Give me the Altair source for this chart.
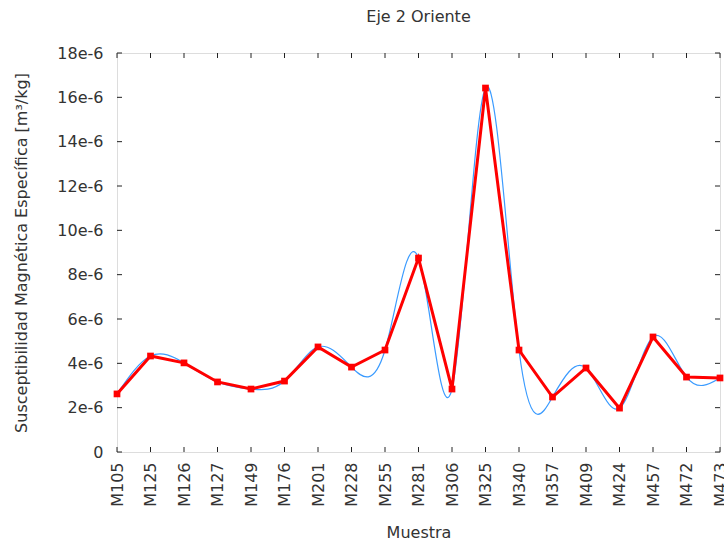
import altair as alt
import pandas as pd

# Samples along the eastern axis and their specific magnetic susceptibility (m³/kg)
muestras = ["M105", "M125", "M126", "M127", "M149", "M176", "M201", "M228", "M255",
            "M281", "M306", "M325", "M340", "M357", "M409", "M424", "M457", "M472", "M473"]
susceptibilidad = [2.62e-6, 4.33e-6, 4.02e-6, 3.16e-6, 2.84e-6, 3.20e-6, 4.74e-6, 3.83e-6, 4.60e-6,
                   8.75e-6, 2.84e-6, 16.42e-6, 4.60e-6, 2.48e-6, 3.79e-6, 1.98e-6, 5.19e-6, 3.38e-6, 3.34e-6]
y_ticks = [0, 2e-6, 4e-6, 6e-6, 8e-6, 10e-6, 12e-6, 14e-6, 16e-6, 18e-6]

W, H = 603, 399
FONT = "DejaVu Sans"
FS = 16
TXT = "#333"

df = pd.DataFrame({"Muestra": muestras, "Valor": susceptibilidad})
ticks_df = pd.DataFrame({"t": y_ticks})

x_enc = alt.X("Muestra:N", sort=muestras,
              scale=alt.Scale(type="point", padding=0),
              axis=alt.Axis(title="Muestra", labelAngle=-90, ticks=False, domain=False,
                            labelPadding=10, titlePadding=18, labelFont=FONT, titleFont=FONT,
                            labelFontSize=FS, titleFontSize=FS, labelColor=TXT,
                            titleColor=TXT, titleFontWeight="normal"))
y_scale = alt.Scale(domain=[0, 18e-6], nice=False, zero=True)
y_enc = alt.Y("Valor:Q", scale=y_scale,
              axis=alt.Axis(title="Susceptibilidad Magnética Específica [m³/kg]",
                            values=y_ticks, ticks=False, domain=False, grid=False,
                            labelExpr="datum.value == 0 ? '0' : round(datum.value * 1e6) + 'e-6'",
                            labelPadding=14, titlePadding=27, labelFont=FONT, titleFont=FONT,
                            labelFontSize=FS, titleFontSize=FS, labelColor=TXT,
                            titleColor=TXT, titleFontWeight="normal"))

base = alt.Chart(df)

# Smooth cubic-spline curve through the samples
spline = base.mark_line(color="#3a9bff", strokeWidth=1.2, interpolate="natural").encode(x=x_enc, y=y_enc)
# Straight segments with point markers
lineas = base.mark_line(color="#ff0000", strokeWidth=3).encode(x=x_enc, y=y_enc)
puntos = base.mark_point(color="#ff0000", filled=True, opacity=1, shape="square", size=45).encode(x=x_enc, y=y_enc)

# Inward tick marks on all four sides
tick_len = 5
bottom_ticks = base.mark_rule(color="#222", strokeWidth=1).encode(
    x=alt.X("Muestra:N", sort=muestras, scale=alt.Scale(type="point", padding=0)),
    y=alt.value(H), y2=alt.value(H - tick_len))
top_ticks = base.mark_rule(color="#222", strokeWidth=1).encode(
    x=alt.X("Muestra:N", sort=muestras, scale=alt.Scale(type="point", padding=0)),
    y=alt.value(0), y2=alt.value(tick_len))
left_ticks = alt.Chart(ticks_df).mark_rule(color="#222", strokeWidth=1).encode(
    y=alt.Y("t:Q", scale=y_scale), x=alt.value(0), x2=alt.value(tick_len))
right_ticks = alt.Chart(ticks_df).mark_rule(color="#222", strokeWidth=1).encode(
    y=alt.Y("t:Q", scale=y_scale), x=alt.value(W), x2=alt.value(W - tick_len))

chart = alt.layer(
    bottom_ticks, top_ticks, left_ticks, right_ticks, spline, lineas, puntos
).properties(
    width=W, height=H,
    title=alt.TitleParams("Eje 2 Oriente", font=FONT, fontSize=FS, fontWeight="normal",
                          color=TXT, offset=20),
    autosize=alt.AutoSizeParams(type="none"),
    padding={"left": 117, "top": 53, "right": 4, "bottom": 90},
).configure_view(
    stroke="#222", strokeWidth=1.2
).configure(background="white")

chart.save("out.html", embed_options={"renderer": "svg", "actions": False})
